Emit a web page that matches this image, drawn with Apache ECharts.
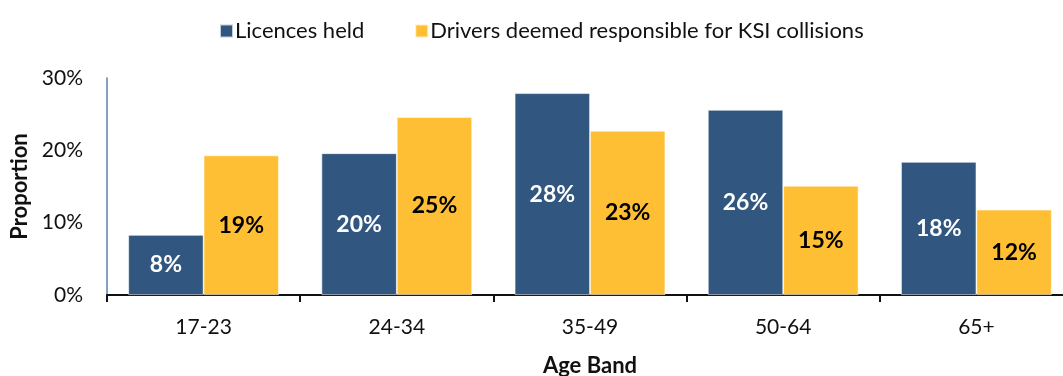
<!DOCTYPE html>
<html>
<head>
<meta charset="utf-8">
<script src="https://cdn.jsdelivr.net/npm/echarts@6/dist/echarts.min.js"></script>
<style>
  html, body { margin: 0; padding: 0; background: #fff; }
  #chart { width: 1063px; height: 376px; }
</style>
</head>
<body>
<div id="chart"></div>
<script>
// Age bands on the x axis
const ageBands = ['17-23', '24-34', '35-49', '50-64', '65+'];
// Share of licences held, per age band (%)
const licencesHeld = [8.3, 19.6, 27.9, 25.6, 18.4];
// Share of drivers deemed responsible for KSI collisions, per age band (%)
const driversResponsible = [19.3, 24.6, 22.7, 15.1, 11.8];
// Y axis ticks (%)
const yTicks = [0, 10, 20, 30];

const FONT = 'Lato, "Noto Sans", sans-serif';
const BLUE = '#31567f';
const YELLOW = '#ffbf35';

const chart = echarts.init(document.getElementById('chart'), null, { renderer: 'canvas' });

const pctLabel = (color) => ({
  show: true,
  position: 'inside',
  color: color,
  fontFamily: FONT,
  fontWeight: 'bold',
  fontSize: 23,
  formatter: (p) => Math.round(p.value) + '%'
});

chart.setOption({
  animation: false,
  textStyle: { fontFamily: FONT },
  legend: {
    top: 15,
    left: 214,
    itemWidth: 13,
    itemHeight: 13,
    itemGap: 50,
    icon: 'rect',
    textStyle: { fontFamily: FONT, fontSize: 22, color: '#111', padding: [0, 0, 0, -3] },
    data: ['Licences held', 'Drivers deemed responsible for KSI collisions']
  },
  grid: { left: 107, right: -10, top: 78, bottom: 81, outerBoundsMode: 'none', containLabel: false },
  xAxis: {
    type: 'category',
    data: ageBands,
    name: 'Age Band',
    nameLocation: 'middle',
    nameGap: 60,
    nameTextStyle: { fontFamily: FONT, fontWeight: 'bold', fontSize: 22, color: '#111' },
    axisLine: { lineStyle: { color: '#111', width: 2 } },
    axisTick: { show: true, length: 7, lineStyle: { color: '#111', width: 2 } },
    axisLabel: { fontFamily: FONT, fontSize: 21, color: '#111', margin: 22 }
  },
  yAxis: {
    type: 'value',
    min: yTicks[0],
    max: yTicks[yTicks.length - 1],
    interval: 10,
    name: 'Proportion',
    nameLocation: 'middle',
    nameGap: 75,
    nameRotate: 90,
    nameTextStyle: { fontFamily: FONT, fontWeight: 'bold', fontSize: 22, color: '#111' },
    axisLine: { show: true, lineStyle: { color: '#5a7fae', width: 1.5 } },
    axisTick: { show: false },
    splitLine: { show: false },
    axisLabel: { fontFamily: FONT, fontSize: 21, color: '#111', margin: 24, formatter: (v) => v + '%' }
  },
  series: [
    {
      name: 'Licences held',
      type: 'bar',
      data: licencesHeld,
      barGap: '0%',
      barCategoryGap: '22%',
      itemStyle: { color: BLUE, borderColor: 'rgba(255,255,255,0.7)', borderWidth: 0.8 },
      label: pctLabel('#ffffff')
    },
    {
      name: 'Drivers deemed responsible for KSI collisions',
      type: 'bar',
      data: driversResponsible,
      barGap: '0%',
      barCategoryGap: '22%',
      itemStyle: { color: YELLOW, borderColor: 'rgba(255,255,255,0.7)', borderWidth: 0.8 },
      label: pctLabel('#000000')
    }
  ]
});
</script>
</body>
</html>
